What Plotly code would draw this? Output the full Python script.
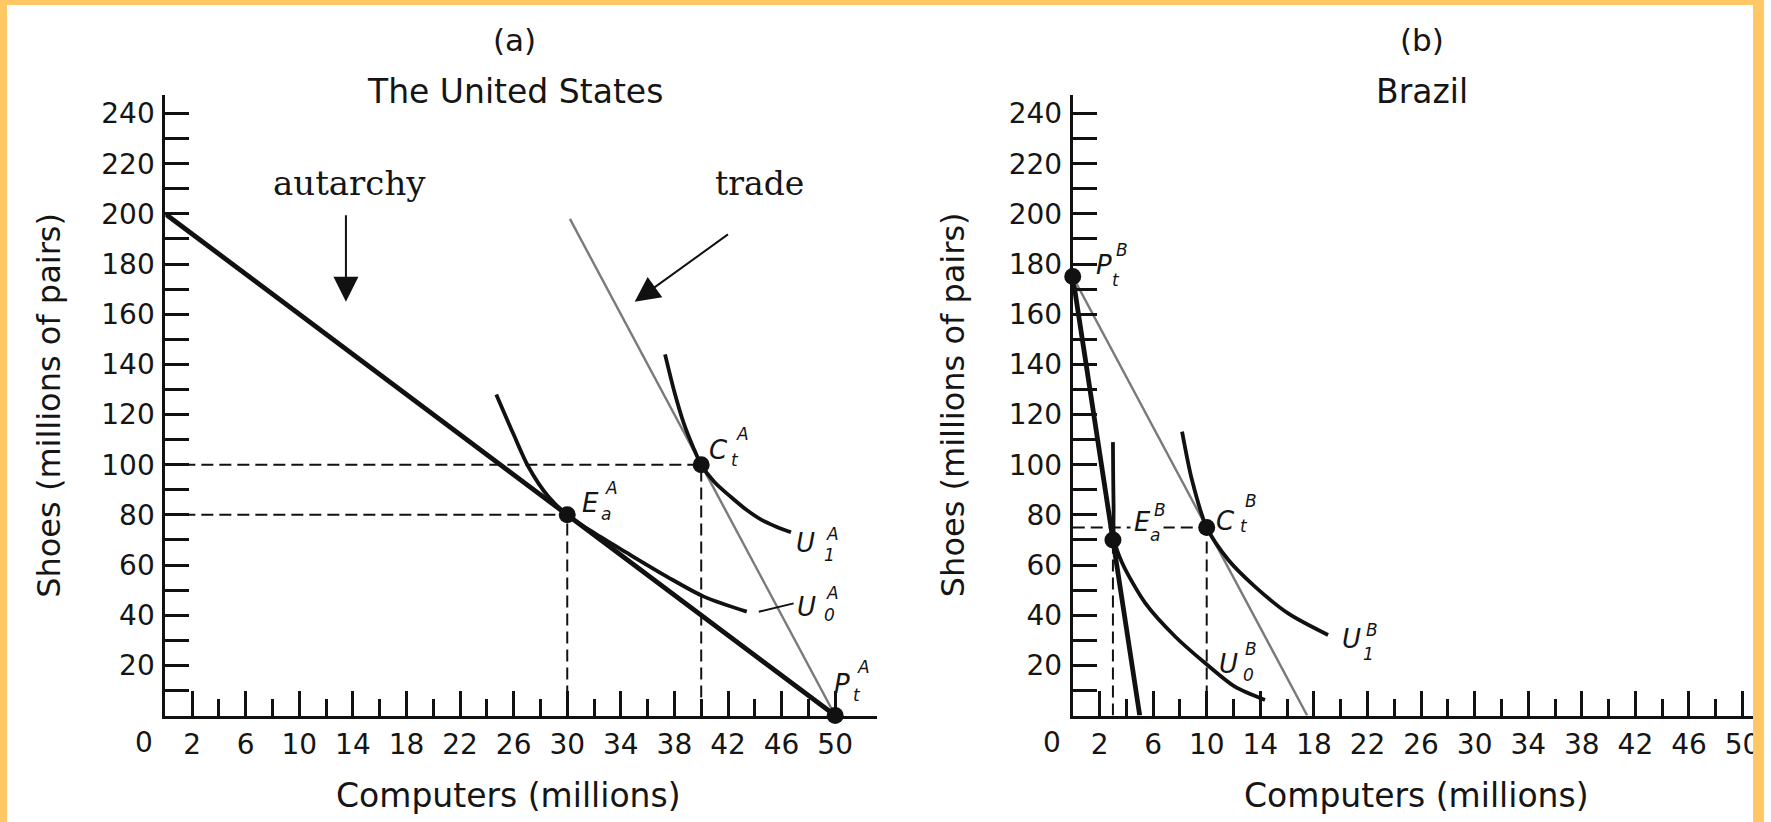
import plotly.graph_objects as go

W, H = 1771, 822


def PX(x):
    return x / W


def PY(y):
    return 1 - y / H


# ---------------- data ----------------
x_tick_vals = [2, 6, 10, 14, 18, 22, 26, 30, 34, 38, 42, 46, 50]
x_tick_text = ["2", "6", "10", "14", "18", "22", "26", "30", "34", "38", "42", "46", "50"]
x_minor_vals = [4, 8, 12, 16, 20, 24, 28, 32, 36, 40, 44, 48]
y_tick_vals = [10, 20, 30, 40, 50, 60, 70, 80, 90, 100, 110, 120, 130, 140, 150, 160,
               170, 180, 190, 200, 210, 220, 230, 240]
y_tick_text = ["", "20", "", "40", "", "60", "", "80", "", "100", "", "120", "", "140", "",
               "160", "", "180", "", "200", "", "220", "", "240"]

# United States
us_ppf_x = [0, 50]
us_ppf_y = [200, 0]
us_trade_x = [30.2, 50]
us_trade_y = [198, 0]
us_u0_x = [24.7, 26.0, 27.1, 28.6, 30.0, 32.0, 34.5, 37.5, 40.2, 43.4]
us_u0_y = [128, 112, 99.2, 87.2, 80, 72.8, 64.7, 55.2, 47.4, 41.4]
us_u1_x = [37.3, 38.0, 38.7, 39.4, 40.0, 41.0, 42.2, 43.3, 44.5, 45.6, 46.7]
us_u1_y = [144, 129, 116.5, 107, 100, 93, 87.2, 82.3, 78, 75.3, 73.1]
us_pts_x = [30, 40, 50]      # E_a, C_t, P_t
us_pts_y = [80, 100, 0]
us_u0_leader_x = [44.3, 46.9]
us_u0_leader_y = [41.4, 44.7]

# Brazil
br_ppf_x = [0, 5]
br_ppf_y = [175, 0]
br_trade_x = [0, 17.5]
br_trade_y = [175, 0]
br_u0_x = [3.0, 3.02, 3.05, 3.1, 3.7, 5.43, 7.66, 9.9, 12.1, 14.35]
br_u0_y = [109, 95, 83, 70, 60.7, 44.7, 31.4, 20.8, 11.5, 6.2]
br_u1_x = [8.16, 8.9, 10.0, 11.62, 13.6, 16.08, 19.06]
br_u1_y = [113.2, 93.9, 75, 62, 51.4, 40.7, 32.1]
br_pts_x = [0, 3, 10]        # P_t, E_a, C_t
br_pts_y = [175, 70, 75]

# ---------------- geometry (pixels) ----------------
SX = 13.45          # px per computer unit
SY = 2.508          # px per shoe unit
Y0 = 715.5          # pixel row of shoes = 0
YTOP = 95
A_X0, A_XEND = 166, 880
B_X0, B_XEND = 1077, 1760

BLACK = "#111111"
GREY = "#7a7a7a"
TXT = "#151515"
SANS = "DejaVu Sans"
SERIF = "DejaVu Serif"

fig = go.Figure()


def add_panel(xa, ya, ppf_x, ppf_y, trade_x, trade_y, u0x, u0y, u1x, u1y, px_, py_, guides):
    for (gx, gy) in guides:
        fig.add_trace(go.Scatter(x=gx, y=gy, mode="lines", xaxis=xa, yaxis=ya,
                                 line=dict(color=BLACK, width=2, dash="12px,6px"),
                                 hoverinfo="skip", cliponaxis=False))
    fig.add_trace(go.Scatter(x=ppf_x, y=ppf_y, mode="lines", xaxis=xa, yaxis=ya,
                             line=dict(color=BLACK, width=4.8), cliponaxis=False))
    fig.add_trace(go.Scatter(x=trade_x, y=trade_y, mode="lines", xaxis=xa, yaxis=ya,
                             line=dict(color=GREY, width=2.4), cliponaxis=False))
    for cx, cy in ((u0x, u0y), (u1x, u1y)):
        fig.add_trace(go.Scatter(x=cx, y=cy, mode="lines", xaxis=xa, yaxis=ya,
                                 line=dict(color=BLACK, width=3.8, shape="spline", smoothing=0.8),
                                 cliponaxis=False))
    fig.add_trace(go.Scatter(x=px_, y=py_, mode="markers", xaxis=xa, yaxis=ya,
                             marker=dict(color=BLACK, size=17), cliponaxis=False))


add_panel("x", "y", us_ppf_x, us_ppf_y, us_trade_x, us_trade_y, us_u0_x, us_u0_y,
          us_u1_x, us_u1_y, us_pts_x, us_pts_y,
          [([0, us_pts_x[1]], [us_pts_y[1]] * 2), ([0, us_pts_x[0]], [us_pts_y[0]] * 2),
           ([us_pts_x[0]] * 2, [0, us_pts_y[0]]), ([us_pts_x[1]] * 2, [0, us_pts_y[1]])])
fig.add_trace(go.Scatter(x=us_u0_leader_x, y=us_u0_leader_y, mode="lines", xaxis="x", yaxis="y",
                         line=dict(color=BLACK, width=2)))

add_panel("x2", "y2", br_ppf_x, br_ppf_y, br_trade_x, br_trade_y, br_u0_x, br_u0_y,
          br_u1_x, br_u1_y, br_pts_x, br_pts_y,
          [([br_pts_x[1]] * 2, [0, br_pts_y[1]]), ([br_pts_x[2]] * 2, [0, br_pts_y[2]]),
           ([0, br_pts_x[2]], [br_pts_y[2]] * 2)])

yr = [0, (Y0 - YTOP) / SY]
ydom = [PY(Y0), PY(YTOP)]

common_x = dict(showline=True, linecolor=BLACK, linewidth=3, ticks="inside", ticklen=25,
                tickwidth=2.5, tickcolor=BLACK, tickvals=x_tick_vals, ticktext=x_tick_text,
                minor=dict(tickvals=x_minor_vals, ticks="inside", ticklen=17, tickwidth=2.5,
                           tickcolor=BLACK),
                showgrid=False, zeroline=False, ticklabelstandoff=2,
                tickfont=dict(family=SANS, size=28, color=TXT), fixedrange=True)
common_y = dict(showline=True, linecolor=BLACK, linewidth=3, ticks="inside", ticklen=24,
                tickwidth=2.5, tickcolor=BLACK, tickvals=y_tick_vals, ticktext=y_tick_text,
                showgrid=False, zeroline=False, ticklabelstandoff=2, range=yr, domain=ydom,
                tickfont=dict(family=SANS, size=28, color=TXT), fixedrange=True)

fig.update_layout(
    width=W, height=H, margin=dict(l=0, r=0, t=0, b=0),
    paper_bgcolor="white", plot_bgcolor="rgba(0,0,0,0)", showlegend=False,
    xaxis=dict(common_x, domain=[PX(A_X0), PX(A_XEND)], range=[0, (A_XEND - A_X0) / SX], anchor="y"),
    yaxis=dict(common_y, anchor="x"),
    xaxis2=dict(common_x, domain=[PX(B_X0), PX(B_XEND)], range=[0, (B_XEND - B_X0) / SX], anchor="y2"),
    yaxis2=dict(common_y, anchor="x2"),
)

anns = []


def text(x, y, t, size, family=SANS, color=TXT, **kw):
    anns.append(dict(x=PX(x), y=PY(y), xref="paper", yref="paper", text=t, showarrow=False,
                     font=dict(family=family, size=size, color=color),
                     xanchor="center", yanchor="middle", **kw))


# titles
text(516.6, 40, "(a)", 31)
text(516.6, 91.7, "The United States", 33)
text(1427.8, 40, "(b)", 31)
text(1427.8, 91.7, "Brazil", 33)
# axis titles
text(49, 405, "Shoes (millions of pairs)", 32, textangle=-90)
text(957, 405, "Shoes (millions of pairs)", 32, textangle=-90)
text(511, 795, "Computers (millions)", 33)
text(1422, 795, "Computers (millions)", 33)
# origin zeros
text(145, 742, "0", 28)
text(1056, 742, "0", 28)
# serif captions
text(351, 183, "autarchy", 34, family=SERIF)
text(763, 183, "trade", 33, family=SERIF)

# arrows
anns.append(dict(x=PX(347.3), y=PY(301.7), xref="paper", yref="paper", ax=0, ay=-88,
                 showarrow=True, arrowhead=2, arrowsize=2.5, arrowwidth=2, arrowcolor=BLACK,
                 text=""))
anns.append(dict(x=PX(637.2), y=PY(301.7), xref="paper", yref="paper", ax=94.8, ay=-68.4,
                 showarrow=True, arrowhead=2, arrowsize=2.5, arrowwidth=2, arrowcolor=BLACK,
                 text=""))


def label(xa, ya, x, y, letter, sup, sub, dl, dsup, dsub, bg=None):
    base = dict(xref=xa, yref=ya, x=x, y=y, showarrow=False, xanchor="center", yanchor="middle")
    extra = dict(bgcolor=bg, borderpad=3) if bg else {}
    anns.append(dict(base, text="<i>%s</i>" % letter, xshift=dl[0], yshift=dl[1],
                     font=dict(family=SANS, size=26, color=TXT), **extra))
    anns.append(dict(base, text="<i>%s</i>" % sup, xshift=dsup[0], yshift=dsup[1],
                     font=dict(family=SANS, size=17, color=TXT), **extra))
    anns.append(dict(base, text="<i>%s</i>" % sub, xshift=dsub[0], yshift=dsub[1],
                     font=dict(family=SANS, size=17, color=TXT), **extra))


# US labels
label("x", "y", us_pts_x[0], us_pts_y[0], "E", "A", "a", (23, 11.6), (44, 27), (39, 1))
label("x", "y", us_pts_x[1], us_pts_y[1], "C", "A", "t", (17, 14.7), (41, 31), (34, 5))
label("x", "y", us_pts_x[2], us_pts_y[2], "P", "A", "t", (7, 32), (28, 49), (22, 21))
label("x", "y", us_u1_x[-1], us_u1_y[-1], "U", "A", "1", (15, -11), (42, -2), (39, -23))
label("x", "y", us_u0_x[-1], us_u0_y[-1], "U", "A", "0", (60, 5), (86, 19), (83, -3))
# Brazil labels
label("x2", "y2", br_pts_x[0], br_pts_y[0], "P", "B", "t", (31, 12), (49, 27), (43, -3))
label("x2", "y2", br_pts_x[1], br_pts_y[1], "E", "B", "a", (30, 18), (47, 30), (42, 5), bg="white")
label("x2", "y2", br_pts_x[2], br_pts_y[2], "C", "B", "t", (18.5, 6), (44, 26), (37, 1))
label("x2", "y2", br_u0_x[-2], br_u0_y[-2], "U", "B", "0", (-6, 23), (16, 38), (14, 12))
label("x2", "y2", br_u1_x[-1], br_u1_y[-1], "U", "B", "1", (23, -4), (44, 5), (40, -19))

fig.update_layout(annotations=anns)

# orange frame
ORANGE = "#FFC864"
fig.update_layout(shapes=[
    dict(type="rect", xref="paper", yref="paper", x0=0, x1=1, y0=PY(5), y1=1,
         fillcolor=ORANGE, line=dict(width=0), layer="above"),
    dict(type="rect", xref="paper", yref="paper", x0=0, x1=PX(7), y0=0, y1=1,
         fillcolor=ORANGE, line=dict(width=0), layer="above"),
    dict(type="rect", xref="paper", yref="paper", x0=PX(1760), x1=1, y0=0, y1=1,
         fillcolor=ORANGE, line=dict(width=0), layer="above"),
])

fig.write_html(
    "out.html",
    config={"displayModeBar": False},
    post_script="document.body.style.margin='0';document.body.style.overflow='hidden';",
)
